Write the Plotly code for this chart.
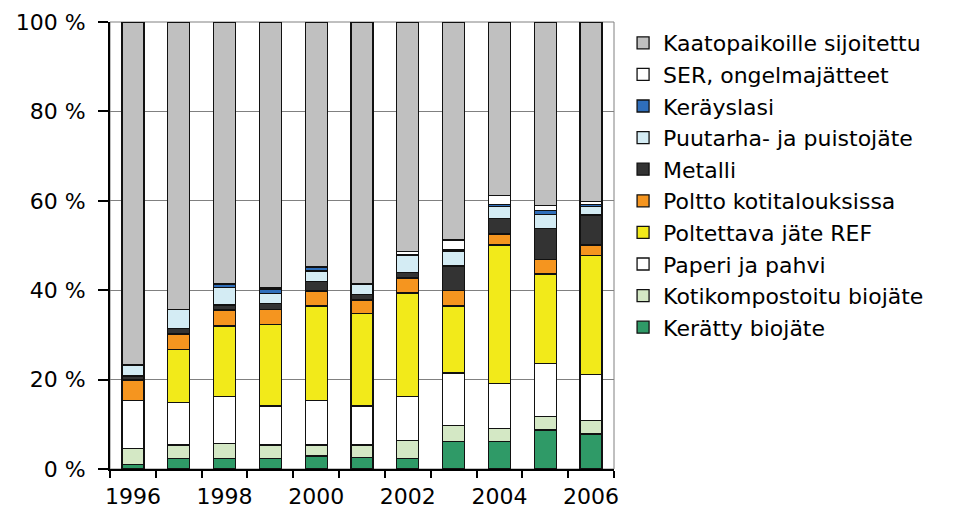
import plotly.graph_objects as go

# Years on the x axis
years = [1996, 1997, 1998, 1999, 2000, 2001, 2002, 2003, 2004, 2005, 2006]

# Share of municipal waste by treatment route (%), stacked bottom to top
keratty_biojate = [1.0, 2.4, 2.4, 2.4, 2.9, 2.5, 2.4, 6.1, 6.1, 8.7, 7.8]
kotikompostoitu = [3.6, 3.0, 3.3, 3.0, 2.5, 2.9, 3.9, 3.7, 3.0, 3.0, 3.0]
paperi_pahvi = [10.8, 9.5, 10.5, 8.7, 10.0, 8.7, 9.9, 11.7, 10.1, 11.9, 10.4]
poltettava_ref = [0.0, 11.9, 15.8, 18.3, 21.1, 20.7, 23.2, 15.0, 30.9, 20.0, 26.5]
poltto_koti = [4.5, 3.4, 3.6, 3.3, 3.3, 3.0, 3.3, 3.5, 2.5, 3.2, 2.4]
metalli = [0.9, 1.3, 1.1, 1.4, 2.1, 1.3, 1.2, 5.4, 3.5, 7.0, 6.7]
puutarha = [2.5, 4.2, 3.9, 2.2, 2.4, 2.3, 4.0, 3.2, 2.7, 3.2, 1.9]
keraysl = [0.0, 0.0, 0.8, 0.8, 0.9, 0.0, 0.0, 0.4, 0.4, 0.8, 0.4]
ser_ongelma = [0.0, 0.0, 0.0, 0.4, 0.0, 0.0, 0.7, 2.2, 2.0, 1.2, 0.8]
kaatopaikka = [76.7, 64.3, 58.6, 59.5, 54.8, 58.6, 51.4, 48.8, 38.8, 41.0, 40.1]

y_ticks = [0, 20, 40, 60, 80, 100]
y_labels = [f"{v} %" for v in y_ticks]
x_labels = [1996, 1998, 2000, 2002, 2004, 2006]

series = [
    ("Kerätty biojäte", keratty_biojate, "#2F9A67"),
    ("Kotikompostoitu biojäte", kotikompostoitu, "#D4E8C5"),
    ("Paperi ja pahvi", paperi_pahvi, "#FFFFFF"),
    ("Poltettava jäte REF", poltettava_ref, "#F2EA1A"),
    ("Poltto kotitalouksissa", poltto_koti, "#F5951F"),
    ("Metalli", metalli, "#333333"),
    ("Puutarha- ja puistojäte", puutarha, "#D4ECF4"),
    ("Keräyslasi", keraysl, "#2F6EBA"),
    ("SER, ongelmajätteet", ser_ongelma, "#FFFFFF"),
    ("Kaatopaikoille sijoitettu", kaatopaikka, "#C0C0C0"),
]

FONT = "DejaVu Sans"

fig = go.Figure()
for name, vals, color in series:
    fig.add_trace(go.Bar(
        x=years, y=vals, name=name,
        marker=dict(color=color, line=dict(color="#111111", width=1.3)),
    ))

fig.update_layout(
    width=957, height=512,
    barmode="stack", bargap=0.52,
    plot_bgcolor="white", paper_bgcolor="white",
    margin=dict(l=110, r=343, t=22, b=43, autoexpand=False),
    font=dict(family=FONT, size=22, color="black"),
    showlegend=True,
    legend=dict(
        traceorder="reversed", x=1.018, y=1.0, xanchor="left", yanchor="top",
        font=dict(family=FONT, size=22, color="black"),
        bgcolor="rgba(0,0,0,0)",
    ),
    shapes=[dict(type="rect", xref="paper", yref="paper", x0=0, x1=1, y0=0, y1=1,
                 line=dict(color="#808080", width=1), layer="below")],
)

fig.update_xaxes(
    range=[years[0] - 0.5, years[-1] + 0.5],
    tickvals=x_labels, ticktext=[str(v) for v in x_labels],
    ticks="", showgrid=False, zeroline=False, automargin=False,
    showline=True, linecolor="black", linewidth=2,
    ticklabelstandoff=7,
    minor=dict(tickvals=[y - 0.5 for y in years] + [years[-1] + 0.5],
               ticks="outside", ticklen=7, tickcolor="black", tickwidth=1.5,
               showgrid=False),
)

fig.update_yaxes(
    range=[0, 100], tickvals=y_ticks, ticktext=y_labels,
    ticks="outside", ticklen=10, tickcolor="black", tickwidth=1.5,
    showgrid=True, gridcolor="#808080", gridwidth=1, automargin=False,
    zeroline=False, showline=True, linecolor="black", linewidth=2,
    ticklabelstandoff=8,
)

fig.write_html("out.html")
